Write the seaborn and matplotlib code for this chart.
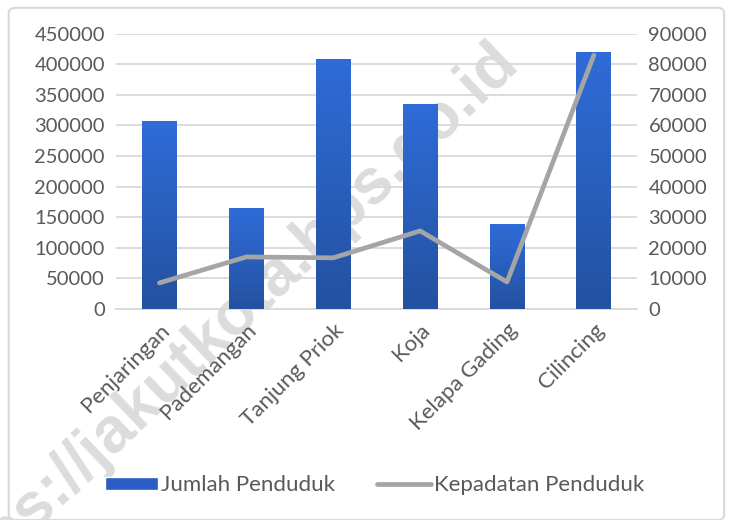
import seaborn as sns
import matplotlib.pyplot as plt
import pandas as pd
import numpy as np
from matplotlib.patches import FancyBboxPatch
from matplotlib.lines import Line2D
from matplotlib.patches import Patch

# Data
kecamatan = ["Penjaringan", "Pademangan", "Tanjung Priok", "Koja", "Kelapa Gading", "Cilincing"]
jumlah_penduduk = [307000, 165000, 409000, 335000, 139000, 420000]
kepadatan_penduduk = [8500, 17000, 16700, 25500, 8800, 83000]
left_ticks = [0, 50000, 100000, 150000, 200000, 250000, 300000, 350000, 400000, 450000]
right_ticks = [0, 10000, 20000, 30000, 40000, 50000, 60000, 70000, 80000, 90000]

df = pd.DataFrame({"Kecamatan": kecamatan,
                   "Jumlah Penduduk": jumlah_penduduk,
                   "Kepadatan Penduduk": kepadatan_penduduk})

sns.set_style("white")
plt.rcParams["font.family"] = ["Lato", "DejaVu Sans"]
txt = "#595959"
grid = "#d9d9d9"
fs = 14.5
fs_big = 16

fig = plt.figure(figsize=(7.3, 5.2), dpi=100)
ax = fig.add_axes([0.159, 0.406, 0.714, 0.529])
ax.set_facecolor("none")

# watermark, behind the chart
fig.text(0.696, 0.9, "https://jakutkota.bps.go.id", rotation=43.7, fontsize=46,
         family="Liberation Sans", fontweight="bold", color="#dcdcdc",
         ha="right", va="center", rotation_mode="anchor", zorder=-5)

sns.barplot(data=df, x="Kecamatan", y="Jumlah Penduduk", order=kecamatan,
            color="#2a5cc4", width=0.4, ax=ax, saturation=1, zorder=3)

# vertical gradient on bars
grad = np.linspace(0, 1, 256).reshape(-1, 1)
cmap = sns.blend_palette(["#2451a0", "#2f6cd8"], as_cmap=True)
for p in ax.patches:
    x0, y0 = p.get_x(), p.get_y()
    w, h = p.get_width(), p.get_height()
    im = ax.imshow(grad, cmap=cmap, origin="lower", aspect="auto",
                   extent=[x0, x0 + w, y0, y0 + h], zorder=3)
    im.set_clip_path(p)
    p.set_alpha(0)

ax.set_xlim(-0.5, 5.5)
ax.set_ylim(0, 450000)
ax.set_yticks(left_ticks)
ax.set_yticklabels([str(t) for t in left_ticks], fontsize=fs, color=txt)
ax.yaxis.grid(True, color=grid, linewidth=1.3, zorder=0)
ax.set_axisbelow(True)
ax.set_xlabel("")
ax.set_ylabel("")
ax.tick_params(axis="both", length=0, pad=8)
ax.set_xticks(range(len(kecamatan)))
ax.set_xticklabels(kecamatan, rotation=45, ha="right", rotation_mode="anchor",
                   fontsize=fs_big, color=txt)
for s in ["top", "right", "left"]:
    ax.spines[s].set_visible(False)
ax.spines["bottom"].set_color(grid)
ax.spines["bottom"].set_linewidth(1.3)

ax2 = ax.twinx()
ax2.set_facecolor("none")
sns.lineplot(data=df, x="Kecamatan", y="Kepadatan Penduduk", color="#a5a5a5",
             linewidth=3.4, ax=ax2, zorder=4)
ax2.set_ylim(0, 90000)
ax2.set_yticks(right_ticks)
ax2.set_yticklabels([str(t) for t in right_ticks], fontsize=fs, color=txt)
ax2.set_ylabel("")
ax2.tick_params(axis="y", length=0, pad=8)
for s in ax2.spines.values():
    s.set_visible(False)

handles = [Patch(facecolor="#2a5cc4", label="Jumlah Penduduk"),
           Line2D([0], [0], color="#a5a5a5", linewidth=3.4, label="Kepadatan Penduduk")]
leg = fig.legend(handles=handles, loc="center", bbox_to_anchor=(0.513, 0.067), ncol=2,
                 frameon=False, fontsize=fs_big, handlelength=2.4, handleheight=0.5,
                 handletextpad=0.15, columnspacing=1.9)
for t in leg.get_texts():
    t.set_color(txt)

# outer chart frame
frame = FancyBboxPatch((0.012, 0.0), 0.98, 0.985, boxstyle="round,pad=0,rounding_size=0.01",
                       transform=fig.transFigure, facecolor="none", edgecolor="#d9d9d9",
                       linewidth=1.5, zorder=0)
fig.patches.append(frame)

fig.savefig("out.png", dpi=100)
